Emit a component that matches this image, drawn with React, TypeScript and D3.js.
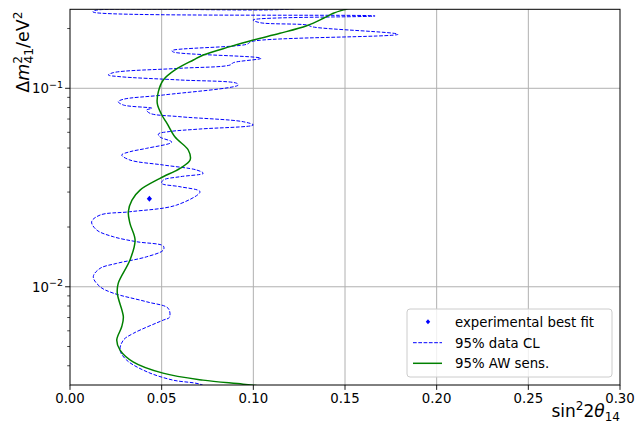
import React from "react";
import * as d3 from "d3";

const W = 638;
const H = 423;
const margin = { left: 70, right: 18, top: 9.3, bottom: 38 };

const xTicks = [0, 0.05, 0.1, 0.15, 0.2, 0.25, 0.3];
const xTickLabels = ["0.00", "0.05", "0.10", "0.15", "0.20", "0.25", "0.30"];
const yMajorTicks = [0.01, 0.1];
const yMajorExp = ["−2", "−1"];
const yMinorTicks = [0.004, 0.005, 0.006, 0.007, 0.008, 0.009, 0.02, 0.03, 0.04, 0.05, 0.06, 0.07, 0.08, 0.09, 0.2];

// experimental best fit
const bestFitX = [0.0433];
const bestFitY = [0.0278];

// 95% data CL (dashed), traced from bottom to top
const dataCLx = [
  0.078, 0.0709, 0.0562, 0.042, 0.0309, 0.0273, 0.0291, 0.0345, 0.0509, 0.0542, 0.0536,
  0.0418, 0.0235, 0.0164, 0.0127, 0.0164, 0.0255, 0.0418, 0.0509, 0.0509, 0.0364,
  0.0236, 0.0146, 0.0118, 0.0164, 0.0327, 0.0582, 0.0709, 0.06, 0.05, 0.0509,
  0.06, 0.0727, 0.0691, 0.0509, 0.0327, 0.0282, 0.0327, 0.0418, 0.0555, 0.0491,
  0.0482, 0.0545, 0.0709, 0.1, 0.0945, 0.06, 0.0436, 0.0418, 0.0447, 0.0291,
  0.0263, 0.0291, 0.0509, 0.0918, 0.0909, 0.06, 0.0273, 0.0209, 0.0236, 0.06,
  0.0873, 0.0891, 0.1042, 0.0563, 0.0556, 0.0964, 0.0991, 0.1789, 0.1325, 0.1291,
  0.1036, 0.0998, 0.1664, 0.0125, 0.0136, 0.1162, 0.14,
];
const dataCLy = [
  0.0030, 0.00323, 0.003386, 0.003729, 0.004271, 0.004797, 0.005385, 0.005822, 0.006796, 0.007012, 0.007783,
  0.008402, 0.009294, 0.01, 0.01123, 0.01238, 0.01312, 0.01416, 0.01531, 0.01604, 0.01686,
  0.01787, 0.01931, 0.02126, 0.02298, 0.02388, 0.02581, 0.03011, 0.03192, 0.0332, 0.0345,
  0.03585, 0.0373, 0.03875, 0.04106, 0.04351, 0.04611, 0.04791, 0.04984, 0.0536, 0.05681,
  0.05883, 0.06057, 0.06235, 0.06531, 0.06785, 0.07191, 0.07482, 0.07773, 0.07929, 0.08235,
  0.08557, 0.08803, 0.09252, 0.1039, 0.106, 0.1101, 0.1144, 0.1167, 0.1199, 0.1261,
  0.131, 0.1346, 0.1416, 0.1524, 0.1547, 0.1666, 0.1721, 0.1871, 0.2037, 0.2085,
  0.2141, 0.2209, 0.2314, 0.2424, 0.2466, 0.2495, 0.262,
];

// 95% AW sensitivity (solid), bottom to top
const awX = [
  0.112, 0.0944, 0.0725, 0.0507, 0.0344, 0.0273, 0.0255, 0.0282, 0.0291, 0.0258, 0.0263,
  0.0327, 0.0355, 0.0327, 0.0318, 0.0338, 0.0382, 0.0491, 0.06, 0.0655, 0.0645,
  0.0573, 0.0529, 0.0501, 0.0476, 0.0482, 0.0509, 0.0573, 0.0673, 0.0727, 0.0873,
  0.1, 0.1145, 0.1291, 0.1382, 0.1436, 0.1509, 0.158,
];
const awY = [
  0.0031, 0.00323, 0.003386, 0.003673, 0.004188, 0.004797, 0.005385, 0.006287, 0.007061, 0.009262, 0.0104,
  0.01363, 0.01719, 0.02087, 0.02388, 0.02735, 0.03071, 0.03518, 0.03952, 0.04351, 0.04887,
  0.05681, 0.06662, 0.07334, 0.084, 0.09613, 0.1101, 0.1237, 0.1389, 0.1472, 0.1621,
  0.1751, 0.1893, 0.2067, 0.2253, 0.2388, 0.251, 0.262,
];

const legendLabels = ["experimental best fit", "95% data CL", "95% AW sens."];

const FONT = "'DejaVu Sans', sans-serif";

export default function App() {
  const x = d3.scaleLinear().domain([0, 0.3]).range([margin.left, W - margin.right]);
  const y = d3.scaleLog().domain([0.0032, 0.25]).range([H - margin.bottom, margin.top]);

  const dataPts: [number, number][] = dataCLx.map((v, i) => [x(v), y(dataCLy[i])]);
  const awPts: [number, number][] = awX.map((v, i) => [x(v), y(awY[i])]);
  const pathGen = d3.line().curve(d3.curveCatmullRom.alpha(0.5));

  const x0 = x(0);
  const x1 = x(0.3);
  const yTop = y(0.25);
  const yBot = y(0.0032);

  const diamond = (cx: number, cy: number, r: number) =>
    `M${cx},${cy - r * 1.15}L${cx + r},${cy}L${cx},${cy + r * 1.15}L${cx - r},${cy}Z`;

  const legX = 407;
  const legY = 309;
  const rows = [321.7, 342.7, 363.3];

  return (
    <div style={{ position: "absolute", left: 0, top: 0 }}>
      <svg width={W} height={H} style={{ display: "block", background: "#fff" }} fontFamily={FONT}>
        <defs>
          <clipPath id="plotclip">
            <rect x={x0} y={yTop} width={x1 - x0} height={yBot - yTop} />
          </clipPath>
        </defs>
        {/* grid */}
        {xTicks.slice(1, -1).map((t) => (
          <line key={"gx" + t} x1={x(t)} x2={x(t)} y1={yTop} y2={yBot} stroke="#b0b0b0" strokeWidth={1} />
        ))}
        {yMajorTicks.map((t) => (
          <line key={"gy" + t} x1={x0} x2={x1} y1={y(t)} y2={y(t)} stroke="#b0b0b0" strokeWidth={1} />
        ))}

        <g clipPath="url(#plotclip)">
          <path d={pathGen(dataPts) || ""} fill="none" stroke="#0000ff" strokeWidth={1} strokeDasharray="3.7,1.6" />
          <path d={pathGen(awPts) || ""} fill="none" stroke="#008000" strokeWidth={1.5} />
          {bestFitX.map((v, i) => (
            <path key={"bf" + i} d={diamond(x(v), y(bestFitY[i]), 2.6)} fill="#0000ff" />
          ))}
        </g>

        {/* spines */}
        <rect x={x0} y={yTop} width={x1 - x0} height={yBot - yTop} fill="none" stroke="#000" strokeWidth={1} />

        {/* x ticks */}
        {xTicks.map((t, i) => (
          <g key={"xt" + t}>
            <line x1={x(t)} x2={x(t)} y1={yBot} y2={yBot + 4.9} stroke="#000" strokeWidth={0.9} />
            <text x={x(t)} y={yBot + 17.5} textAnchor="middle" fontSize={13.3} fill="#000">
              {xTickLabels[i]}
            </text>
          </g>
        ))}

        {/* y ticks */}
        {yMajorTicks.map((t, i) => (
          <g key={"yt" + t}>
            <line x1={x0 - 4.9} x2={x0} y1={y(t)} y2={y(t)} stroke="#000" strokeWidth={0.9} />
            <text x={x0 - 7} y={y(t) + 5} textAnchor="end" fontSize={13.3} fill="#000">
              10
              <tspan dy={-5.5} fontSize={9.5}>
                {yMajorExp[i]}
              </tspan>
            </text>
          </g>
        ))}
        {yMinorTicks.map((t) => (
          <line key={"ym" + t} x1={x0 - 2.8} x2={x0} y1={y(t)} y2={y(t)} stroke="#000" strokeWidth={0.7} />
        ))}

        {/* axis labels */}
        <text x={x1} y={417} textAnchor="end" fontSize={17} fill="#000">
          sin
          <tspan dy={-7} fontSize={12}>2</tspan>
          <tspan dy={7}>2</tspan>
          <tspan fontStyle="italic">θ</tspan>
          <tspan dy={4} fontSize={12}>14</tspan>
        </text>
        <g transform={`translate(29.3, 11.5) rotate(-90)`}>
          <text x={0} y={0} textAnchor="end" fontSize={17.5} fill="#000">
            Δ<tspan fontStyle="italic">m</tspan>
            <tspan dy={-7.5} fontSize={12.3}>2</tspan>
            <tspan dx={-7.8} dy={11.5} fontSize={12.3}>41</tspan>
            <tspan dy={-4}>/eV</tspan>
            <tspan dy={-7} fontSize={12.3}>2</tspan>
          </text>
        </g>

        {/* legend */}
        <rect x={legX} y={legY} width={205} height={68} rx={3} fill="#fff" fillOpacity={0.8} stroke="#cccccc" strokeWidth={1} />
        <path d={diamond(428, rows[0], 2.2)} fill="#0000ff" />
        <line x1={413} x2={442} y1={rows[1]} y2={rows[1]} stroke="#0000ff" strokeWidth={1} strokeDasharray="3.7,1.6" />
        <line x1={413} x2={442} y1={rows[2]} y2={rows[2]} stroke="#008000" strokeWidth={1.5} />
        {legendLabels.map((l, i) => (
          <text key={l} x={455} y={rows[i] + 5} fontSize={13.3} fill="#000">
            {l}
          </text>
        ))}
      </svg>
    </div>
  );
}
